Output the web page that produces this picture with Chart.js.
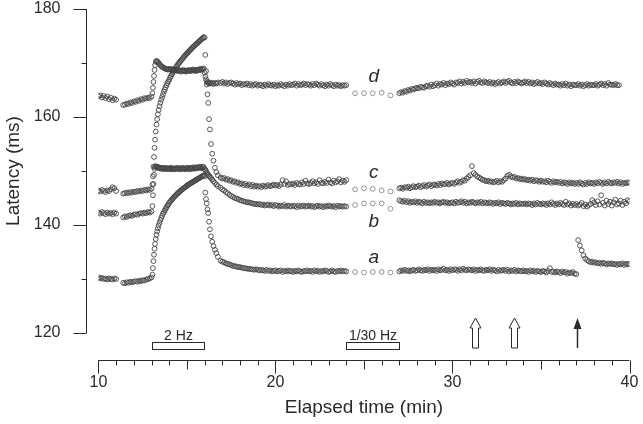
<!DOCTYPE html>
<html>
<head>
<meta charset="utf-8">
<script src="https://cdn.jsdelivr.net/npm/chart.js@4/dist/chart.umd.min.js"></script>
<style>
html,body{margin:0;padding:0;background:#fff;}
#wrap{width:643px;height:424px;position:relative;}
</style>
</head>
<body>
<div id="wrap"><canvas id="chart"></canvas></div>
<script>
// ---- sampling clock (minutes) ----
function steps(a, b, s) { const out = []; const n = Math.round((b - a) / s); for (let i = 0; i <= n; i++) out.push(+(a + i * s).toFixed(2)); return out; }
const timesBase1 = steps(10.0, 11.0, 0.1);
const timesBase2 = steps(11.4, 13.0, 0.1);
const timesStim  = [13.05, 13.08, 13.11, 13.14, 13.17, 13.20, 13.24, 13.28, 13.32, 13.36, 13.40, 13.45].concat(steps(13.5, 15.95, 0.05));
const timesFast  = [16.0, 16.04, 16.08, 16.12, 16.16, 16.2, 16.25, 16.3, 16.36, 16.43, 16.5, 16.58, 16.66, 16.75];
const timesRec   = steps(16.9, 24.0, 0.1);
const timesSlow  = [24.5, 25.0, 25.5, 26.0, 26.5];
const timesLate  = steps(27.0, 40.0, 0.1);
const sampleTimes = [].concat(timesBase1, timesBase2, timesStim, timesFast, timesRec, timesSlow, timesLate);

// ---- latency values (ms) ----
const latencyD = [
 163.8,164.0,163.6,163.9,163.5,163.8,163.3,163.6,163.1,163.4,163.2,
 162.2,162.3,162.5,162.4,162.7,162.6,162.9,162.8,163.1,163.0,163.3,163.2,163.5,163.4,163.6,163.5,163.8,
 164.4,165.4,166.5,167.6,168.7,169.6,170.2,170.4,170.3,170.2,170.0,169.8,
 169.6,169.4,169.3,169.2,169.1,169.0,168.9,168.9,168.8,168.8,
 168.9,168.8,168.9,168.7,168.8,168.6,168.7,168.8,168.6,168.7,
 168.5,168.7,168.6,168.4,168.6,168.5,168.7,168.5,168.6,168.4,
 168.6,168.5,168.7,168.6,168.5,168.7,168.6,168.8,168.6,168.7,
 168.5,168.7,168.6,168.8,168.7,168.9,168.7,168.9,168.8,169.0,
 168.2,167.5,167.0,166.6,166.4,166.3,166.2,166.4,166.2,166.3,166.1,166.3,166.2,166.4,
 166.3,166.5,166.2,166.4,166.1,166.3,166.4,166.2,166.0,166.3,
 166.1,166.2,165.9,166.1,166.0,166.2,165.9,166.1,165.8,166.0,
 166.1,165.8,166.0,165.9,165.7,166.0,165.8,166.1,165.9,165.8,
 166.0,165.7,165.9,165.8,166.1,165.9,165.7,166.0,165.8,166.1,
 165.9,166.0,166.2,165.8,166.1,165.9,166.0,166.2,165.9,166.1,
 166.0,165.8,166.1,165.9,166.2,166.0,165.8,166.1,165.9,165.7,
 166.0,165.8,166.1,165.9,165.7,166.0,165.8,165.9,165.7,165.9,
 165.8,165.9,
 164.4,164.4,164.4,164.5,164.0,
 164.4,164.6,164.5,164.8,164.7,165.0,164.9,165.2,165.1,165.3,
 165.4,165.3,165.6,165.5,165.4,165.7,165.8,165.6,166.0,165.7,
 165.9,166.2,165.8,166.1,166.0,166.3,165.9,166.2,166.1,166.4,
 166.2,166.0,166.4,166.3,166.6,166.2,166.5,166.3,166.7,166.4,
 166.5,166.3,166.6,166.2,166.5,166.7,166.4,166.3,166.6,166.4,
 166.3,166.5,166.2,166.4,166.1,166.3,166.5,166.2,166.4,166.6,
 166.3,166.5,166.7,166.4,166.2,166.5,166.3,166.6,166.4,166.2,
 166.4,166.6,166.3,166.5,166.2,166.4,166.1,166.3,166.5,166.2,
 166.3,166.1,166.4,166.2,166.0,166.3,166.1,165.9,166.2,166.0,
 166.0,165.8,166.1,165.9,166.2,165.8,166.0,165.7,166.0,165.9,
 165.9,166.1,165.8,166.0,165.7,165.9,166.1,165.8,166.0,165.9,
 165.9,166.1,165.8,166.0,166.2,165.9,166.1,165.8,166.3,166.0,
 166.0,165.9,166.1,165.9,165.9
];
const latencyC = [
 146.4,146.2,146.5,146.3,146.1,146.4,146.3,146.6,147.0,146.8,146.3,
 145.8,145.9,146.0,145.9,146.1,146.0,146.2,146.1,146.3,146.2,146.4,146.3,146.5,146.4,146.6,146.5,146.7,
 147.5,149.0,150.8,152.6,154.3,155.8,157.3,158.6,159.6,160.5,161.3,162.0,
 162.6,163.2,163.7,164.2,164.7,165.1,165.5,165.9,166.3,166.6,
 166.9,167.3,167.6,167.9,168.2,168.5,168.8,169.0,169.3,169.5,
 169.8,170.0,170.2,170.4,170.6,170.8,171.0,171.2,171.4,171.6,
 171.8,171.9,172.1,172.3,172.5,172.6,172.8,173.0,173.1,173.3,
 173.4,173.6,173.7,173.9,174.0,174.2,174.3,174.5,174.6,174.8,
 174.7,171.5,168.5,166.0,164.2,162.6,159.6,157.7,155.0,153.2,151.9,150.6,149.8,149.2,
 148.8,148.6,148.7,148.4,148.5,148.2,148.3,148.0,148.1,147.8,
 147.9,147.6,147.7,147.4,147.6,147.3,147.5,147.2,147.4,147.1,
 147.3,147.1,147.2,147.0,147.3,147.1,147.2,147.4,147.2,147.3,
 147.5,147.3,147.4,147.2,147.5,148.3,147.6,148.1,147.4,147.6,
 147.5,147.7,147.4,147.8,147.6,147.5,147.9,147.6,148.2,147.7,
 147.6,147.8,148.1,147.7,147.9,147.6,148.3,147.8,147.7,148.0,
 147.8,148.4,147.9,147.7,148.2,147.9,148.1,148.5,147.9,148.2,
 148.0,148.3,
 146.6,146.8,146.7,146.4,146.2,
 146.8,146.9,146.7,147.0,146.9,147.1,146.8,147.0,147.2,147.0,
 147.1,147.3,147.0,147.2,147.4,147.1,147.3,147.5,147.2,147.4,
 147.5,147.3,147.6,147.4,147.7,147.5,147.6,147.8,147.5,147.7,
 147.8,147.6,147.9,148.1,147.8,148.0,148.3,148.2,148.6,148.9,
 149.2,150.9,149.6,149.3,149.0,148.8,148.6,148.4,148.3,148.1,
 148.2,148.0,148.1,147.9,148.0,148.2,147.9,148.1,148.0,148.3,
 148.6,149.1,149.3,149.0,148.8,148.9,148.6,148.7,148.5,148.6,
 148.4,148.5,148.3,148.4,148.2,148.4,148.1,148.3,148.2,148.0,
 148.2,148.0,148.1,147.9,148.2,148.0,147.8,148.1,147.9,148.0,
 147.8,148.0,147.7,147.9,147.8,147.6,147.9,147.7,147.8,147.6,
 147.8,147.6,147.9,147.7,147.5,147.8,147.6,147.9,147.7,147.8,
 147.6,147.9,147.7,148.0,147.8,147.6,147.9,147.7,148.0,147.8,
 147.7,147.9,147.8,148.0,147.7,147.9,147.6,147.8,147.7,147.9,
 147.8
];
const latencyB = [
 142.3,142.1,142.4,142.2,142.0,142.3,142.1,142.2,142.0,142.3,142.1,
 141.4,141.6,141.5,141.7,141.8,141.7,141.9,142.0,141.9,142.1,142.2,142.1,142.3,142.2,142.4,142.3,142.5,
 143.5,145.5,147.6,149.3,150.4,150.8,150.9,150.7,150.8,150.6,150.7,150.5,
 150.6,150.4,150.6,150.5,150.3,150.5,150.6,150.4,150.5,150.3,
 150.5,150.4,150.6,150.3,150.5,150.4,150.3,150.5,150.4,150.6,
 150.4,150.5,150.3,150.5,150.4,150.6,150.4,150.5,150.3,150.5,
 150.4,150.6,150.5,150.3,150.6,150.4,150.5,150.7,150.4,150.6,
 150.5,150.7,150.5,150.6,150.8,150.6,150.7,150.5,150.8,150.7,
 150.4,150.2,150.0,149.7,149.5,149.3,149.1,148.9,148.7,148.4,148.1,147.8,147.5,147.2,
 146.9,146.6,146.4,146.1,145.9,145.6,145.4,145.2,145.0,144.9,
 144.8,144.6,144.5,144.4,144.3,144.2,144.2,144.1,144.0,143.9,
 143.9,143.8,143.9,143.7,143.8,143.6,143.7,143.8,143.6,143.7,
 143.5,143.7,143.6,143.4,143.6,143.5,143.7,143.4,143.6,143.5,
 143.4,143.6,143.5,143.3,143.6,143.4,143.5,143.6,143.4,143.5,
 143.6,143.4,143.5,143.3,143.5,143.6,143.4,143.5,143.3,143.5,
 143.4,143.6,143.5,143.4,143.5,143.3,143.6,143.4,143.5,143.4,
 143.5,143.4,
 143.7,144.0,144.0,144.0,143.0,
 144.6,144.4,144.3,144.5,144.2,144.4,144.1,144.3,144.2,144.4,
 144.1,144.3,144.2,144.0,144.3,144.1,144.2,144.0,144.2,144.1,
 144.3,144.1,144.2,144.0,144.2,144.3,144.1,144.2,144.0,144.1,
 144.2,144.0,144.3,144.1,144.2,144.4,144.1,144.3,144.0,144.2,
 144.1,144.3,144.2,144.0,144.2,144.1,144.3,144.0,144.2,144.1,
 144.0,144.2,144.1,143.9,144.1,144.0,144.2,143.9,144.1,144.0,
 143.9,144.1,144.0,143.8,144.0,143.9,144.1,143.8,144.0,143.9,
 143.9,144.0,143.8,144.0,143.9,143.7,144.0,143.8,144.1,143.9,
 143.8,144.0,143.9,143.7,144.0,143.8,144.2,143.9,143.7,144.0,
 143.8,144.1,143.9,143.7,144.3,143.8,144.0,143.6,143.9,143.7,
 143.9,143.6,143.8,144.1,143.5,143.8,143.4,143.7,143.9,144.6,
 144.2,143.7,144.4,143.8,145.5,144.1,143.6,144.5,143.9,144.3,
 143.6,144.2,144.7,143.8,144.0,144.5,143.7,144.3,144.0,144.6,
 144.4
];
const latencyA = [
 130.3,130.1,130.2,130.0,130.1,129.9,130.1,130.0,129.9,130.1,130.0,
 129.3,129.2,129.4,129.3,129.5,129.4,129.5,129.6,129.5,129.7,129.6,129.8,129.7,129.9,130.0,130.1,130.3,
 130.8,132.0,133.3,134.5,135.6,136.5,137.4,138.2,138.8,139.4,139.9,140.4,
 140.9,141.3,141.7,142.1,142.4,142.7,143.0,143.3,143.6,143.8,
 144.1,144.3,144.5,144.7,144.9,145.1,145.3,145.4,145.6,145.8,
 145.9,146.1,146.2,146.4,146.5,146.6,146.8,146.9,147.0,147.1,
 147.3,147.4,147.5,147.6,147.7,147.8,147.9,148.0,148.1,148.2,
 148.3,148.4,148.5,148.6,148.7,148.8,148.9,149.0,149.1,149.2,
 149.0,146.0,144.8,144.0,142.9,142.2,140.6,139.2,137.9,136.9,136.1,135.4,134.8,134.1,
 133.4,133.2,133.1,132.9,132.8,132.7,132.6,132.4,132.4,132.3,
 132.2,132.2,132.1,132.0,132.0,131.9,131.9,131.8,131.8,131.7,
 131.8,131.7,131.6,131.7,131.6,131.5,131.7,131.5,131.6,131.4,
 131.5,131.6,131.4,131.5,131.6,131.3,131.5,131.4,131.6,131.4,
 131.5,131.3,131.5,131.4,131.6,131.4,131.3,131.5,131.4,131.6,
 131.4,131.5,131.3,131.6,131.4,131.5,131.3,131.5,131.4,131.6,
 131.5,131.3,131.4,131.6,131.4,131.3,131.5,131.4,131.6,131.4,
 131.5,131.4,
 131.3,131.2,131.3,131.3,131.2,
 131.4,131.6,131.5,131.7,131.5,131.6,131.4,131.6,131.7,131.5,
 131.6,131.8,131.6,131.5,131.7,131.6,131.8,131.5,131.7,131.6,
 131.7,131.5,131.8,131.6,131.7,131.9,131.6,131.7,131.5,131.8,
 131.6,131.8,131.7,131.5,131.8,131.6,131.9,131.7,131.6,131.8,
 131.7,131.6,131.8,131.5,131.7,131.6,131.8,131.6,131.5,131.7,
 131.6,131.8,131.5,131.7,131.6,131.4,131.7,131.5,131.6,131.7,
 131.5,131.7,131.4,131.6,131.5,131.7,131.4,131.6,131.5,131.4,
 131.6,131.4,131.5,131.3,131.6,131.4,131.5,131.3,131.5,131.4,
 131.3,131.5,131.4,131.2,131.5,132.0,131.3,131.4,131.2,131.4,
 131.3,131.1,131.4,131.2,131.3,131.0,131.2,131.1,131.3,131.0,
 130.9,
 137.2,136.2,135.3,134.4,133.8,133.5,133.3,133.1,133.2,
 133.0,133.1,132.9,133.0,132.8,133.0,132.9,132.7,132.9,132.8,
 132.9,132.7,132.8,132.6,132.8,132.7,132.9,132.6,132.8,132.7,
 132.8
];

// ---- axis ticks and annotations ----
const xMajorTicks = [10, 20, 30, 40];
const yMajorTicks = [120, 140, 160, 180];
const yMinorTicks = [130, 150, 170];
const seriesNames = ['a', 'b', 'c', 'd'];
const stimBlocks = [{label: '2 Hz', from: 13.0, to: 15.95}, {label: '1/30 Hz', from: 23.97, to: 27.0}];
const openArrowTimes = [31.28, 33.46];
const filledArrowTimes = [37.06];

function toPoints(vals) { return vals.map((v, i) => ({x: sampleTimes[i], y: v})); }

const FONT = '"Liberation Sans", Arial, Helvetica, sans-serif';
const INK = '#2a2a2a';

const decor = {
  id: 'decor',
  afterDraw(chart) {
    const {ctx} = chart;
    const xs = chart.scales.x, ys = chart.scales.y;
    const X = v => xs.getPixelForValue(v), Y = v => ys.getPixelForValue(v);
    ctx.save();
    ctx.strokeStyle = INK; ctx.fillStyle = INK; ctx.lineWidth = 1;

    // Y axis (offset to the left of the data)
    const ax = Math.round(X(10) - 12) + 0.5;
    ctx.beginPath(); ctx.moveTo(ax, Y(180)); ctx.lineTo(ax, Y(120)); ctx.stroke();
    yMajorTicks.forEach(t => { const py = Math.round(Y(t)) + 0.5; ctx.beginPath(); ctx.moveTo(ax - 13, py); ctx.lineTo(ax, py); ctx.stroke(); });
    yMinorTicks.forEach(t => { const py = Math.round(Y(t)) + 0.5; ctx.beginPath(); ctx.moveTo(ax - 5, py); ctx.lineTo(ax, py); ctx.stroke(); });
    ctx.font = '16px ' + FONT; ctx.textAlign = 'right'; ctx.textBaseline = 'middle';
    yMajorTicks.forEach(t => ctx.fillText(String(t), ax - 26, Y(t)));
    ctx.save();
    ctx.translate(14, (Y(180) + Y(120)) / 2);
    ctx.rotate(-Math.PI / 2);
    ctx.font = '19px ' + FONT; ctx.textAlign = 'center'; ctx.textBaseline = 'middle';
    ctx.fillText('Latency (ms)', 0, 0);
    ctx.restore();

    // X axis (offset below the data)
    const ay = Math.round(Y(120) + 27) + 0.5;
    ctx.beginPath(); ctx.moveTo(X(10), ay); ctx.lineTo(X(40), ay); ctx.stroke();
    for (let m = 10; m <= 40; m++) {
      const len = m % 10 === 0 ? 13 : (m % 5 === 0 ? 9 : 5);
      const px = Math.round(X(m)) + 0.5;
      ctx.beginPath(); ctx.moveTo(px, ay); ctx.lineTo(px, ay + len); ctx.stroke();
    }
    ctx.font = '16px ' + FONT; ctx.textAlign = 'center'; ctx.textBaseline = 'middle';
    xMajorTicks.forEach(t => ctx.fillText(String(t), X(t), ay + 22));
    ctx.font = '19px ' + FONT;
    ctx.fillText('Elapsed time (min)', (X(10) + X(40)) / 2, ay + 47);

    // stimulation blocks
    ctx.font = '14px ' + FONT;
    stimBlocks.forEach(b => {
      const x0 = Math.round(X(b.from)) + 0.5, x1 = Math.round(X(b.to)) + 0.5;
      const y0 = Math.round(Y(120) + 9) + 0.5;
      ctx.strokeRect(x0, y0, x1 - x0, 7);
      ctx.textAlign = 'center'; ctx.textBaseline = 'alphabetic';
      ctx.fillText(b.label, (x0 + x1) / 2, y0 - 3);
    });

    // arrows
    const tipY = Y(120) - 15, baseY = Y(120) + 15;
    openArrowTimes.forEach(t => {
      const cx = Math.round(X(t)) + 0.5;
      ctx.beginPath();
      ctx.moveTo(cx, tipY); ctx.lineTo(cx + 5.5, tipY + 10); ctx.lineTo(cx + 3, tipY + 10);
      ctx.lineTo(cx + 3, baseY); ctx.lineTo(cx - 3, baseY); ctx.lineTo(cx - 3, tipY + 10);
      ctx.lineTo(cx - 5.5, tipY + 10); ctx.closePath();
      ctx.fillStyle = '#fff'; ctx.fill(); ctx.stroke(); ctx.fillStyle = INK;
    });
    filledArrowTimes.forEach(t => {
      const cx = Math.round(X(t)) + 0.5;
      ctx.beginPath(); ctx.moveTo(cx, tipY); ctx.lineTo(cx + 4, tipY + 11); ctx.lineTo(cx - 4, tipY + 11); ctx.closePath(); ctx.fill();
      ctx.lineWidth = 1.5; ctx.beginPath(); ctx.moveTo(cx, tipY + 10); ctx.lineTo(cx, baseY); ctx.stroke(); ctx.lineWidth = 1;
    });

    // series labels
    ctx.font = 'italic 19px ' + FONT; ctx.textAlign = 'center'; ctx.textBaseline = 'alphabetic';
    const labelPos = {a: 133.0, b: 139.6, c: 148.7, d: 166.5};
    seriesNames.forEach(n => ctx.fillText(n, X(25.55), Y(labelPos[n])));
    ctx.restore();
  }
};

const pointStyle = {
  showLine: false, pointStyle: 'circle', pointRadius: 2.4, pointBorderWidth: 0.9,
  pointBorderColor: c => (c.raw && timesSlow.includes(c.raw.x)) ? '#8a8a8a' : '#454545',
  pointBackgroundColor: 'rgba(255,255,255,0)', pointHoverRadius: 2.4
};

new Chart(document.getElementById('chart'), {
  type: 'scatter',
  data: {
    datasets: [
      Object.assign({label: 'a', data: toPoints(latencyA)}, pointStyle),
      Object.assign({label: 'b', data: toPoints(latencyB)}, pointStyle),
      Object.assign({label: 'c', data: toPoints(latencyC)}, pointStyle),
      Object.assign({label: 'd', data: toPoints(latencyD)}, pointStyle)
    ]
  },
  options: {
    responsive: true, maintainAspectRatio: false, animation: false, devicePixelRatio: 1,
    events: [],
    layout: {padding: {left: 98.4, right: 13.5, top: 9, bottom: 91}},
    plugins: {legend: {display: false}, tooltip: {enabled: false}},
    scales: {
      x: {type: 'linear', min: 10, max: 40, display: false},
      y: {type: 'linear', min: 120, max: 180, display: false}
    }
  },
  plugins: [decor]
});
</script>
</body>
</html>
